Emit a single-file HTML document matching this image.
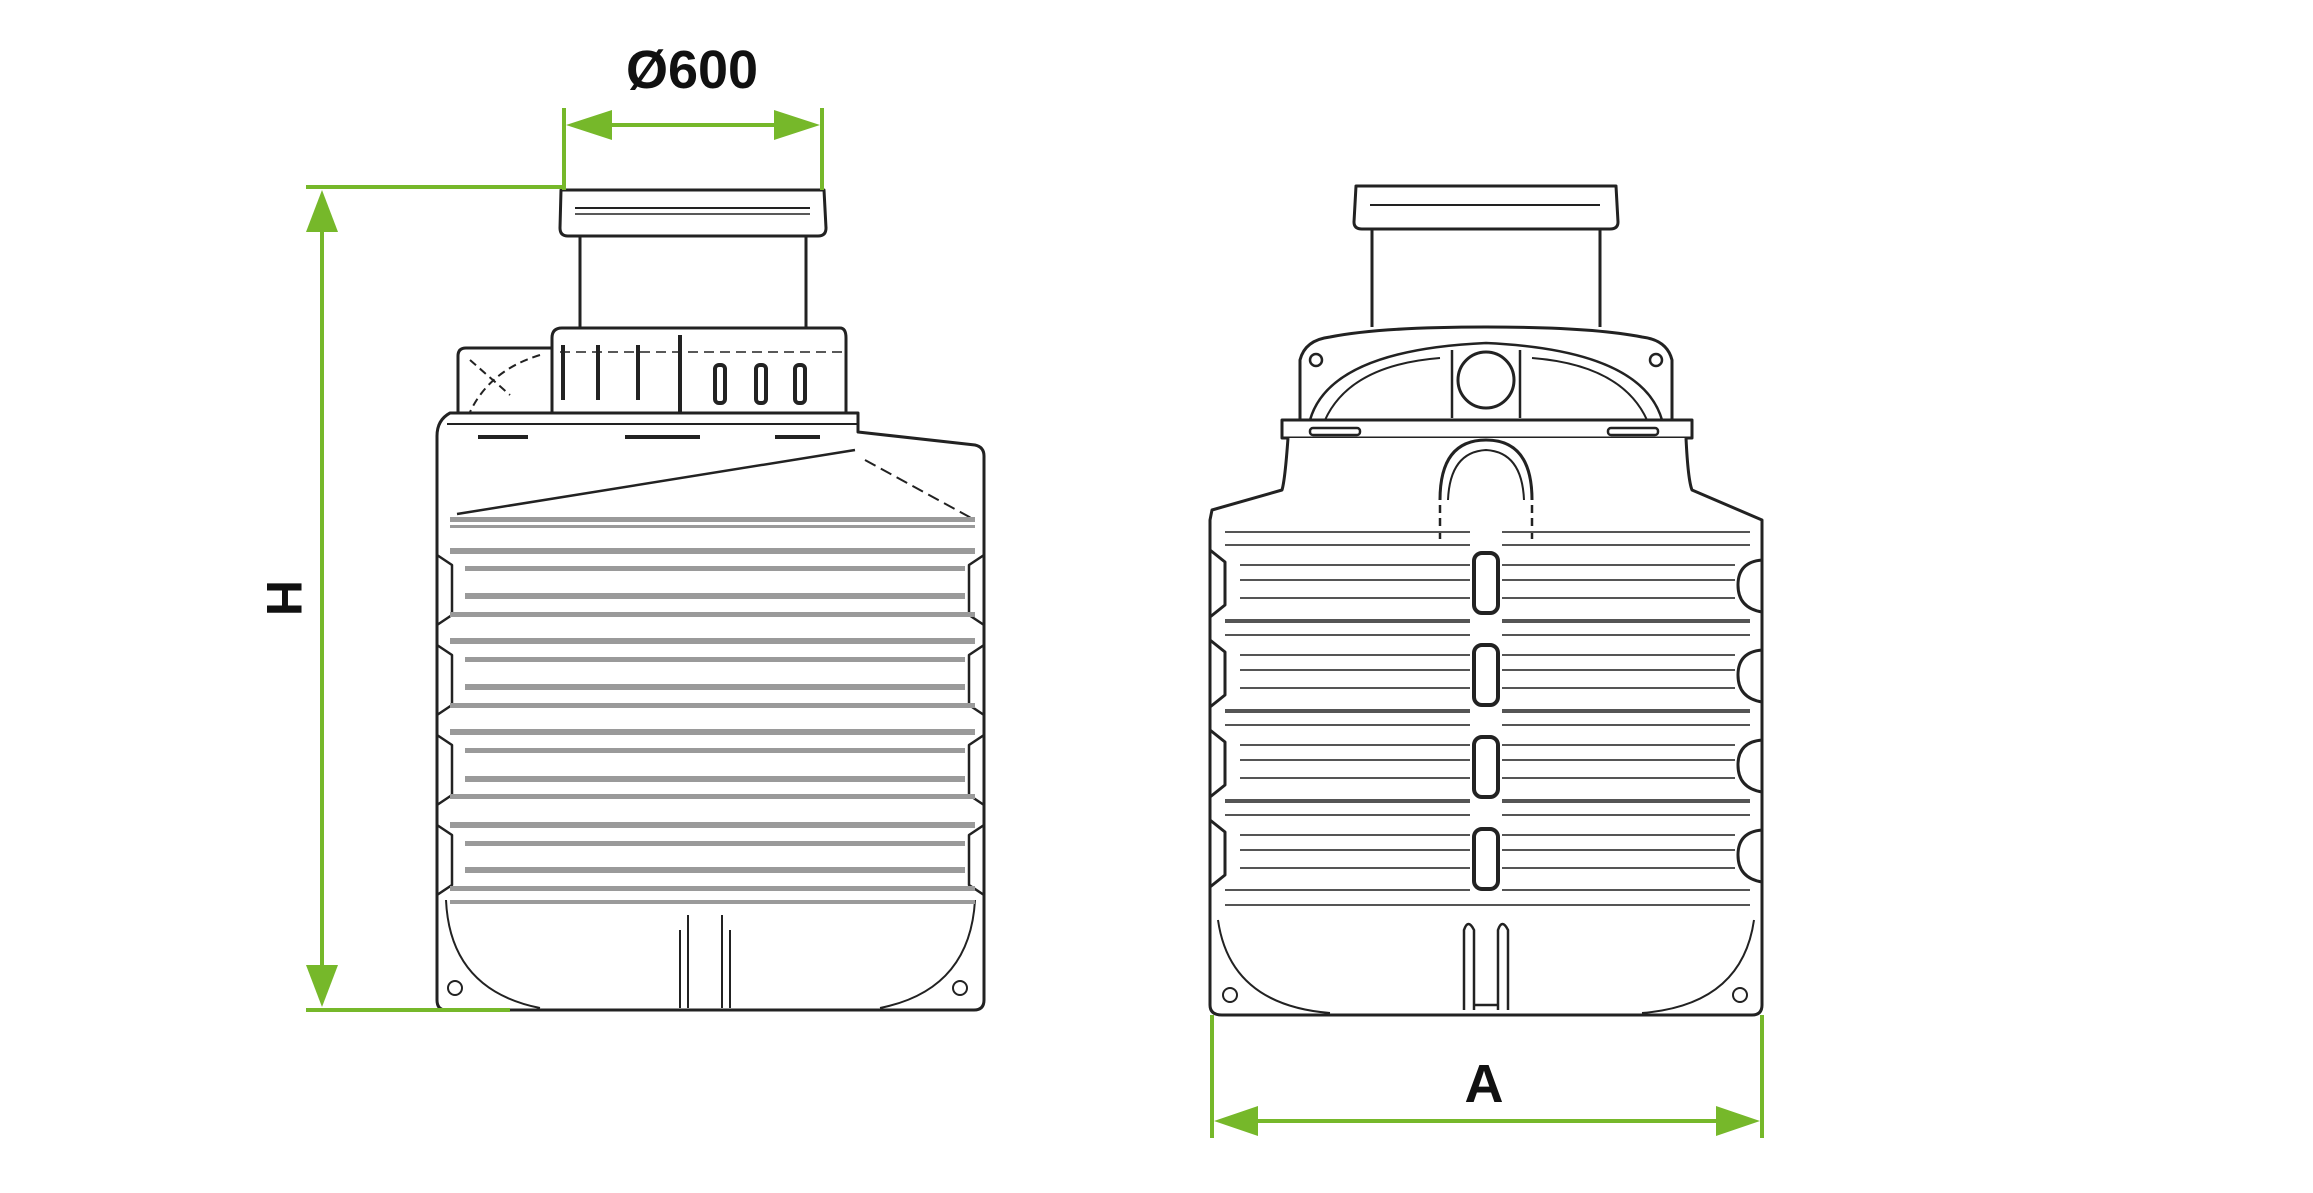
<!DOCTYPE html>
<html><head><meta charset="utf-8"><style>
html,body{margin:0;padding:0;background:#fff;}
svg{display:block;}
text{font-family:"Liberation Sans",sans-serif;font-weight:bold;fill:#111;}
</style></head><body>
<svg width="2313" height="1193" viewBox="0 0 2313 1193" xmlns="http://www.w3.org/2000/svg">
<rect width="2313" height="1193" fill="#fff"/>
<defs>
<g id="bandsL">
</g>
</defs>
<!-- ===== Left tank ===== -->
<g fill="none" stroke="#222" stroke-width="3" stroke-linejoin="round">
  <!-- lid -->
  <path d="M561 190 L824 190 L826 228 Q826 236 818 236 L568 236 Q560 236 560 228 Z" fill="#fff"/>
  <line x1="575" y1="208" x2="810" y2="208" stroke-width="2"/>
  <line x1="575" y1="214" x2="810" y2="214" stroke-width="1.5"/>
  <!-- neck -->
  <line x1="580" y1="236" x2="580" y2="328"/>
  <line x1="806" y1="236" x2="806" y2="328"/>
  <!-- collar -->
  <path d="M552 413 L552 338 Q552 328 562 328 L840 328 Q846 328 846 338 L846 413"/>
  <path d="M552 348 L466 348 Q458 348 458 356 L458 413"/>
  <path d="M470 360 L510 395 M540 355 Q490 370 470 412" stroke-width="2" stroke-dasharray="8 5"/>
  <g stroke-width="4">
    <line x1="563" y1="345" x2="563" y2="400"/><line x1="598" y1="345" x2="598" y2="400"/>
    <line x1="638" y1="345" x2="638" y2="400"/><line x1="680" y1="335" x2="680" y2="412"/>
    <rect x="715" y="365" width="10" height="38" rx="4"/><rect x="756" y="365" width="10" height="38" rx="4"/>
    <rect x="795" y="365" width="10" height="38" rx="4"/>
  </g>
  <line x1="560" y1="352" x2="846" y2="352" stroke-width="1.5" stroke-dasharray="10 6"/>
  <!-- body -->
  <path d="M450 413 L858 413 L858 432 L975 445 Q984 447 984 456 L984 1000 Q984 1010 974 1010 L446 1010 Q437 1010 437 1000 L437 436 Q437 420 450 413 Z" fill="#fff"/>
  <line x1="447" y1="424" x2="858" y2="424" stroke-width="2"/>
  <g stroke-width="4">
    <line x1="478" y1="437" x2="528" y2="437"/><line x1="625" y1="437" x2="700" y2="437"/><line x1="775" y1="437" x2="820" y2="437"/>
  </g>
  <line x1="457" y1="514" x2="855" y2="450" stroke-width="2.5"/>
  <line x1="865" y1="460" x2="975" y2="520" stroke-width="2" stroke-dasharray="12 6"/>
  <!-- side bumps -->
  <g stroke-width="2.5">
    <path d="M437 555 L452 565 L452 615 L437 625"/>
    <path d="M437 645 L452 655 L452 705 L437 715"/>
    <path d="M437 735 L452 745 L452 795 L437 805"/>
    <path d="M437 825 L452 835 L452 885 L437 895"/>
    <path d="M984 555 L969 565 L969 615 L984 625"/>
    <path d="M984 645 L969 655 L969 705 L984 715"/>
    <path d="M984 735 L969 745 L969 795 L984 805"/>
    <path d="M984 825 L969 835 L969 885 L984 895"/>
  </g>
  <!-- bottom -->
  <path d="M446 900 Q450 990 540 1008" stroke-width="2"/>
  <path d="M975 900 Q970 990 880 1008" stroke-width="2"/>
  <circle cx="455" cy="988" r="7" stroke-width="2"/><circle cx="960" cy="988" r="7" stroke-width="2"/>
  <path d="M688 1008 L688 915 M722 1008 L722 915 M680 1008 L680 930 M730 1008 L730 930" stroke-width="2"/>
</g>
<!-- left grey bands -->
<g fill="#9a9a9a">
  <rect x="450" y="517" width="525" height="5"/><rect x="450" y="525" width="525" height="3"/>
  <rect x="450" y="548" width="525" height="6"/><rect x="465" y="566" width="500" height="5"/>
  <rect x="465" y="593" width="500" height="6"/><rect x="450" y="612" width="525" height="5"/>
  <rect x="450" y="638" width="525" height="6"/><rect x="465" y="657" width="500" height="5"/>
  <rect x="465" y="684" width="500" height="6"/><rect x="450" y="703" width="525" height="5"/>
  <rect x="450" y="729" width="525" height="6"/><rect x="465" y="748" width="500" height="5"/>
  <rect x="465" y="776" width="500" height="6"/><rect x="450" y="794" width="525" height="5"/>
  <rect x="450" y="822" width="525" height="6"/><rect x="465" y="841" width="500" height="5"/>
  <rect x="465" y="867" width="500" height="6"/><rect x="450" y="886" width="525" height="5"/>
  <rect x="450" y="900" width="525" height="4"/>
</g>
<!-- ===== Right tank ===== -->
<g fill="none" stroke="#222" stroke-width="3" stroke-linejoin="round">
  <path d="M1356 186 L1616 186 L1618 222 Q1618 229 1610 229 L1362 229 Q1354 229 1354 222 Z" fill="#fff"/>
  <line x1="1370" y1="205" x2="1600" y2="205" stroke-width="2"/>
  <line x1="1372" y1="229" x2="1372" y2="327"/><line x1="1600" y1="229" x2="1600" y2="327"/>
  <path d="M1300 420 L1300 360 Q1305 340 1330 337 Q1380 327 1486 327 Q1592 327 1642 337 Q1667 340 1672 360 L1672 420"/>
  <path d="M1310 420 Q1330 350 1486 343 Q1642 350 1662 420" stroke-width="2.5"/>
  <path d="M1325 420 Q1350 365 1440 358 M1532 358 Q1622 365 1647 420" stroke-width="2"/>
  <circle cx="1316" cy="360" r="6" stroke-width="2.5"/><circle cx="1656" cy="360" r="6" stroke-width="2.5"/>
  <circle cx="1486" cy="380" r="28"/>
  <path d="M1452 350 L1452 418 M1520 350 L1520 418" stroke-width="2.5"/>
  <rect x="1282" y="420" width="410" height="18" fill="#fff"/>
  <rect x="1310" y="428" width="50" height="7" rx="3" stroke-width="2.5"/>
  <rect x="1608" y="428" width="50" height="7" rx="3" stroke-width="2.5"/>
  <path d="M1288 438 Q1285 480 1282 490 L1212 510 L1210 520 L1210 1005 Q1210 1015 1222 1015 L1752 1015 Q1762 1015 1762 1005 L1762 520 L1692 490 Q1688 480 1686 438" fill="#fff"/>
  <path d="M1440 500 Q1440 440 1486 440 Q1532 440 1532 500" stroke-width="3"/>
  <path d="M1448 500 Q1450 452 1486 450 Q1522 452 1524 500" stroke-width="2"/>
  <path d="M1440 505 L1440 540 M1532 505 L1532 540" stroke-width="2.5" stroke-dasharray="8 5"/>
  <!-- left bumps -->
  <g stroke-width="3">
    <path d="M1210 550 L1225 562 L1225 605 L1210 617"/>
    <path d="M1210 640 L1225 652 L1225 695 L1210 707"/>
    <path d="M1210 730 L1225 742 L1225 785 L1210 797"/>
    <path d="M1210 820 L1225 832 L1225 875 L1210 887"/>
    <path d="M1762 560 Q1738 562 1738 585 Q1738 608 1762 612"/>
    <path d="M1762 650 Q1738 652 1738 675 Q1738 698 1762 702"/>
    <path d="M1762 740 Q1738 742 1738 765 Q1738 788 1762 792"/>
    <path d="M1762 830 Q1738 832 1738 855 Q1738 878 1762 882"/>
  </g>
  <g stroke-width="4">
    <rect x="1474" y="553" width="24" height="60" rx="8"/>
    <rect x="1474" y="645" width="24" height="60" rx="8"/>
    <rect x="1474" y="737" width="24" height="60" rx="8"/>
    <rect x="1474" y="829" width="24" height="60" rx="8"/>
  </g>
  <path d="M1218 920 Q1230 1005 1330 1013 M1754 920 Q1742 1005 1642 1013" stroke-width="2"/>
  <circle cx="1230" cy="995" r="7" stroke-width="2"/><circle cx="1740" cy="995" r="7" stroke-width="2"/>
  <path d="M1464 1010 L1464 930 Q1468 918 1474 930 L1474 1010 M1508 1010 L1508 930 Q1502 918 1498 930 L1498 1010 M1474 1005 L1498 1005" stroke-width="2.5"/>
</g>
<g stroke="#555" stroke-width="2">
  <g id="rb">
  <line x1="1225" y1="532" x2="1470" y2="532"/><line x1="1502" y1="532" x2="1750" y2="532"/>
  <line x1="1225" y1="545" x2="1470" y2="545"/><line x1="1502" y1="545" x2="1750" y2="545"/>
  <line x1="1240" y1="565" x2="1470" y2="565"/><line x1="1502" y1="565" x2="1735" y2="565"/>
  <line x1="1240" y1="580" x2="1470" y2="580"/><line x1="1502" y1="580" x2="1735" y2="580"/>
  <line x1="1240" y1="598" x2="1470" y2="598"/><line x1="1502" y1="598" x2="1735" y2="598"/>
  <line x1="1225" y1="620" x2="1470" y2="620"/><line x1="1502" y1="620" x2="1750" y2="620"/>
  </g>
  <use href="#rb" y="90"/><use href="#rb" y="180"/><use href="#rb" y="270"/>
  <line x1="1225" y1="905" x2="1750" y2="905"/>
</g>
<!-- ===== Dimensions (green) ===== -->
<g stroke="#76b82a" stroke-width="4" fill="#76b82a">
  <line x1="564" y1="108" x2="564" y2="190"/>
  <line x1="822" y1="108" x2="822" y2="190"/>
  <line x1="590" y1="125" x2="796" y2="125"/>
  <polygon points="566,125 612,110 612,140" stroke="none"/>
  <polygon points="820,125 774,110 774,140" stroke="none"/>
  <line x1="306" y1="187" x2="564" y2="187"/>
  <line x1="322" y1="215" x2="322" y2="980"/>
  <polygon points="322,190 306,232 338,232" stroke="none"/>
  <polygon points="322,1007 306,965 338,965" stroke="none"/>
  <line x1="306" y1="1010" x2="510" y2="1010"/>
  <line x1="1212" y1="1015" x2="1212" y2="1138"/>
  <line x1="1762" y1="1015" x2="1762" y2="1138"/>
  <line x1="1240" y1="1121" x2="1735" y2="1121"/>
  <polygon points="1214,1121 1258,1106 1258,1136" stroke="none"/>
  <polygon points="1760,1121 1716,1106 1716,1136" stroke="none"/>
</g>
<text x="692" y="88" font-size="54" text-anchor="middle">Ø600</text>
<text x="0" y="0" font-size="50" text-anchor="middle" transform="translate(285 598) rotate(90) translate(0 18)">H</text>
<text x="1484" y="1102" font-size="54" text-anchor="middle">A</text>
</svg>
</body></html>
